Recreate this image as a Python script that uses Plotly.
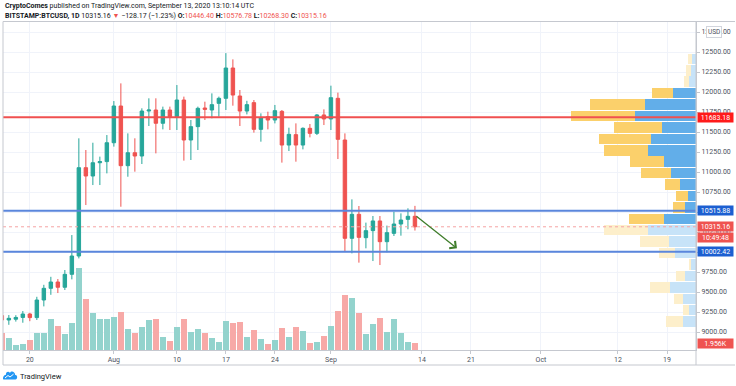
import plotly.graph_objects as go
import pandas as pd

# ---------------- data ----------------
dates = pd.date_range("2020-07-16", "2020-09-13", freq="D")

opens = [9205, 9150, 9160, 9182, 9225, 9180, 9400, 9546, 9625, 9559,
         9721, 9950, 11054, 10950, 11116, 11130, 11366, 11825, 11079, 11241,
         11200, 11762, 11775, 11609, 11775, 11692, 11900, 11400, 11567, 11800,
         11775, 11858, 11921, 12300, 11950, 11762, 11867, 11533, 11692, 11650,
         11758, 11337, 11467, 11337, 11546, 11483, 11713, 11663, 11921, 11400,
         10171, 10471, 10179, 10267, 10388, 10129, 10233, 10350, 10408, 10446.40]
highs = [9230, 9212, 9210, 9262, 9240, 9440, 9590, 9690, 9662, 9775,
         10212, 11421, 11275, 11366, 11192, 11462, 11887, 12108, 11483, 11421,
         11796, 11921, 11921, 11817, 11817, 12087, 11942, 11650, 11817, 11879,
         11983, 11942, 12486, 12408, 12025, 11890, 11900, 11733, 11754, 11838,
         11775, 11554, 11608, 11558, 11600, 11725, 11783, 12079, 11992, 11483,
         10658, 10575, 10367, 10450, 10450, 10330, 10504, 10483, 10546, 10576.78]
lows = [9058, 9090, 9130, 9116, 9135, 9150, 9320, 9465, 9487, 9525,
        9658, 9920, 10587, 10837, 10837, 10983, 11317, 10566, 10941, 11004,
        11100, 11575, 11233, 11533, 11525, 11525, 11142, 11150, 11275, 11650,
        11671, 11692, 11775, 11829, 11575, 11720, 11492, 11379, 11533, 11608,
        11117, 11262, 11129, 11283, 11433, 11462, 11587, 11525, 11162, 10004,
        9983, 9867, 10046, 9887, 9837, 9996, 10200, 10204, 10284, 10268.30]
closes = [9150, 9171, 9182, 9225, 9180, 9400, 9546, 9625, 9559, 9721,
          9950, 11054, 10950, 11116, 11130, 11366, 11825, 11079, 11241, 11200,
          11762, 11775, 11609, 11775, 11692, 11900, 11400, 11567, 11796, 11783,
          11842, 11921, 12300, 11962, 11762, 11842, 11533, 11679, 11650, 11767,
          11337, 11471, 11337, 11546, 11483, 11713, 11663, 11929, 11408, 10171,
          10471, 10183, 10267, 10388, 10129, 10242, 10350, 10400, 10446.40, 10315.16]
volumes_k = [5.05, 3.42, 1.37, 1.66, 2.83, 5.05, 5.05, 9.05, 7.10, 4.67,
             7.97, 23.86, 14.80, 10.89, 9.05, 9.05, 9.72, 11.01, 6.22, 5.05,
             6.63, 8.67, 9.14, 3.71, 2.54, 6.80, 9.14, 5.17, 6.04, 4.96,
             3.59, 2.42, 8.56, 7.80, 8.18, 3.80, 5.75, 3.12, 1.66, 2.83,
             6.34, 3.88, 6.80, 5.46, 2.04, 2.34, 4.09, 7.01, 11.30, 16.06,
             15.10, 10.72, 4.67, 7.68, 9.26, 5.26, 8.96, 4.88, 2.42, 1.956]

# visible-range volume profile (24 rows, top to bottom): up / down volume
profile_up = [3.7, 5.3, 7.3, 22.7, 51.0, 61.0, 34.3, 45.3, 48.3, 32.3, 25.0, 16.3,
              8.0, 10.7, 32.0, 48.3, 27.0, 21.0, 5.0, 10.7, 26.0, 13.0, 7.0, 13.0]
profile_down = [4.6, 5.0, 4.7, 21.7, 55.0, 64.0, 47.7, 52.3, 43.7, 34.0, 30.0, 14.7,
                11.7, 12.3, 35.0, 44.3, 28.7, 16.0, 2.3, 9.3, 20.3, 9.3, 6.0, 17.0]
value_area_rows = (3, 14)   # first / last row of the value area

resistance_level = 11683.18
range_top = 10515.88
range_bottom = 10002.42
last_price = 10315.16
last_volume_k = 1.956
arrow_from = ("2020-09-13", 10462)
arrow_to = ("2020-09-19", 10046)

price_ticks = [9000 + 250 * i for i in range(16)]
time_tickvals = ["2020-07-20", "2020-08-01", "2020-08-10", "2020-08-17", "2020-08-24",
                 "2020-09-01", "2020-09-14", "2020-09-21", "2020-10-01", "2020-10-12",
                 "2020-10-19"]
time_ticktext = ["20", "Aug", "10", "17", "24", "Sep", "14", "21", "Oct", "12", "19"]

# ---------------- styling ----------------
UP = "#26a69a"
DOWN = "#ef5350"
UP_VOL = "#93d3cd"
DOWN_VOL = "#f7a9a7"
GRID = "#f0f3fa"
AXIS = "#c5c8cf"
TXT = "#4c525e"
FONT = "Roboto"

W, H = 736, 386
L, R, T, B = 3, 40, 22, 36
PW, PH = W - L - R, H - T - B


def px(x):
    return (x - L) / PW


def py(y):
    return (H - B - y) / PH


rows = len(profile_up)
vp_high, vp_low = max(highs), min(lows)
step = (vp_high - vp_low) / rows
bin_centers = [vp_high - (i + 0.5) * step for i in range(rows)]
in_va = [value_area_rows[0] <= i <= value_area_rows[1] for i in range(rows)]
up_cols = ["#62aee9" if v else "#c7e3f8" for v in in_va]
down_cols = ["#fbd06b" if v else "#fdefcb" for v in in_va]
max_row = max(u + d for u, d in zip(profile_up, profile_down))

vol_cols = [UP_VOL if c >= o else DOWN_VOL for o, c in zip(opens, closes)]

fig = go.Figure()

fig.add_trace(go.Bar(x=dates, y=volumes_k, marker=dict(color=vol_cols, line=dict(width=0)),
                     width=0.86 * 86400000, xaxis="x", yaxis="y", hoverinfo="skip",
                     showlegend=False))
fig.add_trace(go.Bar(x=profile_up, y=bin_centers, orientation="h",
                     marker=dict(color=up_cols, line=dict(width=0)), width=step * 0.92,
                     xaxis="x2", yaxis="y2", hoverinfo="skip", showlegend=False))
fig.add_trace(go.Bar(x=profile_down, y=bin_centers, orientation="h",
                     marker=dict(color=down_cols, line=dict(width=0)), width=step * 0.92,
                     xaxis="x2", yaxis="y2", hoverinfo="skip", showlegend=False))
fig.add_trace(go.Candlestick(x=dates, open=opens, high=highs, low=lows, close=closes,
                             xaxis="x", yaxis="y2", whiskerwidth=0,
                             increasing=dict(line=dict(color=UP, width=1), fillcolor=UP),
                             decreasing=dict(line=dict(color=DOWN, width=1), fillcolor=DOWN),
                             hoverinfo="skip", showlegend=False))

shapes = []
shapes.append(dict(type="line", xref="paper", yref="y2", x0=0, x1=1,
                   y0=last_price, y1=last_price, line=dict(color="#f5a3a3", width=1, dash="dot"),
                   layer="above"))
shapes.append(dict(type="line", xref="paper", yref="y2", x0=0, x1=1,
                   y0=resistance_level, y1=resistance_level,
                   line=dict(color="#f05050", width=2), layer="above"))
for lvl in (range_top, range_bottom):
    shapes.append(dict(type="line", xref="paper", yref="y2", x0=0, x1=1, y0=lvl, y1=lvl,
                       line=dict(color="#5a86dc", width=2), layer="above"))
# frame
frame = [((3, 21.5), (735, 21.5)), ((3, 21.5), (3, 365)), ((3, 365), (735, 365)),
         ((696, 21.5), (696, 365))]
for (a, b) in frame:
    shapes.append(dict(type="line", xref="paper", yref="paper", x0=px(a[0]), y0=py(a[1]),
                       x1=px(b[0]), y1=py(b[1]), line=dict(color=AXIS, width=1), layer="above"))

# TradingView cloud logo
path = (f"M{px(3.5)},{py(379.5)} L{px(15.5)},{py(379.5)} "
        f"C{px(17.8)},{py(379.5)} {px(17.8)},{py(374.5)} {px(15.2)},{py(375)} "
        f"C{px(15)},{py(371.5)} {px(11)},{py(370.5)} {px(10)},{py(373)} "
        f"C{px(9)},{py(371)} {px(5.5)},{py(371.5)} {px(6)},{py(374.8)} "
        f"C{px(3)},{py(374.8)} {px(2.5)},{py(379.5)} {px(3.5)},{py(379.5)} Z")
shapes.append(dict(type="path", xref="paper", yref="paper", path=path,
                   fillcolor="#2196f3", line=dict(width=0), layer="above"))
zig = (f"M{px(5)},{py(378)} L{px(8)},{py(375.5)} L{px(10)},{py(377)} L{px(13.5)},{py(374.2)}")
shapes.append(dict(type="path", xref="paper", yref="paper", path=zig,
                   line=dict(color="white", width=1), layer="above"))

ann = []
red_txt = "#ef5350"
ann.append(dict(xref="paper", yref="paper", x=px(3), y=py(6), xanchor="left", yanchor="middle",
                showarrow=False, font=dict(family=FONT, size=7, color="#131722"),
                text="<b>CryptoComes</b> published on TradingView.com, September 13, 2020 13:10:14 UTC"))
ann.append(dict(xref="paper", yref="paper", x=px(3), y=py(16), xanchor="left", yanchor="middle",
                showarrow=False, font=dict(family=FONT, size=7, color="#131722"),
                text=("<b>BITSTAMP:BTCUSD, 1D</b> 10315.16 "
                      f"<span style='color:{red_txt}'>▼</span> −128.17 (−1.23%) "
                      f"<b>O:</b><span style='color:{red_txt}'>10446.40</span> "
                      f"<b>H:</b><span style='color:{red_txt}'>10576.78</span> "
                      f"<b>L:</b><span style='color:{red_txt}'>10268.30</span> "
                      f"<b>C:</b><span style='color:{red_txt}'>10315.16</span>")))
ann.append(dict(xref="paper", yref="paper", x=px(18), y=py(376), xanchor="left", yanchor="middle",
                showarrow=False, font=dict(family=FONT, size=7.5, color="#131722"),
                text="TradingView"))


def price_label(text, y, yref, bg, yshift=0):
    return dict(xref="paper", yref=yref, x=1, y=y, xanchor="left", yanchor="middle",
                xshift=1, yshift=yshift, showarrow=False, text=text, bgcolor=bg,
                width=35, height=9, borderpad=0, align="center",
                font=dict(family=FONT, size=7, color="white"))


ann.append(price_label(f"{resistance_level:.2f}", resistance_level, "y2", "#ff1a1a"))
ann.append(price_label(f"{range_top:.2f}", range_top, "y2", "#1c5fd1"))
ann.append(price_label(f"{last_price:.2f}", last_price, "y2", "#ef5350"))
ann.append(price_label("10:49:48", last_price, "y2", "#ef5350", yshift=-10.5))
ann.append(price_label(f"{range_bottom:.2f}", range_bottom, "y2", "#1c5fd1"))
ann.append(price_label(f"{last_volume_k:.3f}K", last_volume_k, "y", "#ef5350"))
ann.append(dict(xref="paper", yref="y2", x=px(714), y=12750, xanchor="center", yanchor="middle",
                showarrow=False, text="USD", bgcolor="white", bordercolor="#d1d4dc",
                borderwidth=1, borderpad=1, font=dict(family=FONT, size=6.5, color=TXT)))
ann.append(dict(xref="x", yref="y2", x=arrow_to[0], y=arrow_to[1], axref="x", ayref="y2",
                ax=arrow_from[0], ay=arrow_from[1], text="", showarrow=True, arrowhead=4,
                arrowsize=1.4, arrowwidth=1.3, arrowcolor="#3f7d2b"))

fig.update_layout(
    width=W, height=H, margin=dict(l=L, r=R, t=T, b=B),
    paper_bgcolor="white", plot_bgcolor="white",
    barmode="stack", bargap=0, showlegend=False, hovermode=False,
    font=dict(family=FONT, size=7, color=TXT),
    xaxis=dict(type="date", range=["2020-07-16 04:00", "2020-10-23 03:24"],
               tickvals=time_tickvals, ticktext=time_ticktext, showgrid=True, gridcolor=GRID,
               gridwidth=1, ticks="outside", ticklen=3, tickcolor=AXIS, showline=True,
               linecolor=AXIS, zeroline=False, rangeslider=dict(visible=False),
               tickfont=dict(family=FONT, size=7, color=TXT), fixedrange=True),
    yaxis=dict(range=[0, PH * 0.292], visible=False, fixedrange=True),
    yaxis2=dict(overlaying="y", side="right", range=[8775, 12875], tickvals=price_ticks,
                ticktext=[f"{v:.2f}" for v in price_ticks], showgrid=True, gridcolor=GRID,
                ticks="outside", ticklen=3, tickcolor=AXIS, showline=True, linecolor=AXIS,
                zeroline=False, tickfont=dict(family=FONT, size=7, color=TXT), fixedrange=True),
    xaxis2=dict(overlaying="x", range=[max_row / 0.18, 0], visible=False, fixedrange=True),
    shapes=shapes, annotations=ann,
)

fig.write_html("out.html", config={"displayModeBar": False},
               post_script="document.body.style.margin='0';document.body.style.overflow='hidden';")
